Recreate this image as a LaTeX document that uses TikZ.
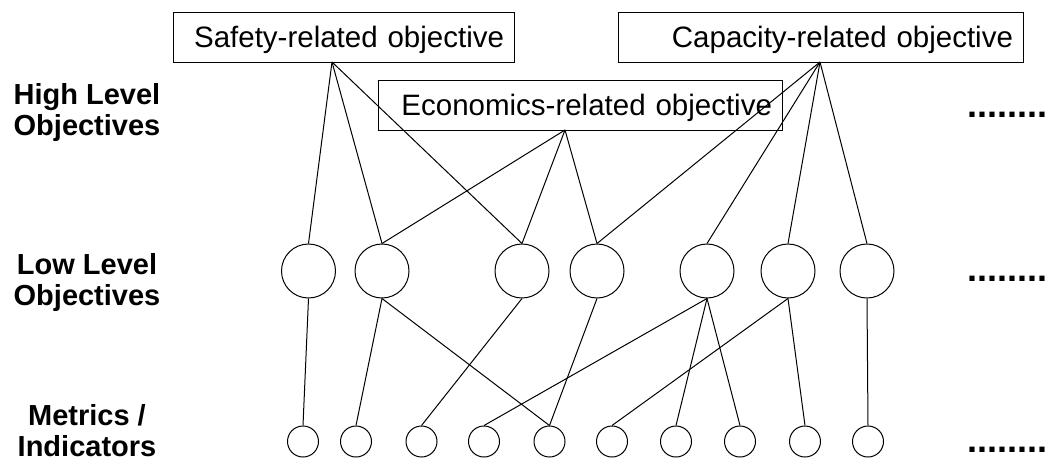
\documentclass[tikz,border=0pt]{standalone}
\usepackage{fontspec}
\setmainfont{Liberation Sans}
\begin{document}
\begin{tikzpicture}[x=1pt,y=-1pt,
  objbox/.style={draw, line width=1pt, minimum height=50pt, inner xsep=10pt, inner ysep=0pt,
    align=right, text height=20.8pt, text depth=0pt, font=\fontsize{29.5}{33}\selectfont},
  lowobj/.style={draw, line width=1pt, circle, minimum size=54pt, inner sep=0pt},
  metric/.style={draw, line width=1pt, circle, minimum size=31pt, inner sep=0pt},
  lvl/.style={align=center, inner sep=0pt, anchor=north, font=\bfseries\fontsize{29}{31.5}\selectfont},
  more/.style={inner sep=0pt, anchor=base west, font=\bfseries\fontsize{36}{36}\selectfont},
  link/.style={draw, line width=1pt}]
\useasboundingbox (0,0) rectangle (1050,464);

% high level objectives
\node[objbox, text width=321pt] (safety) at (343.5,37) {Safety-related objective};
\node[objbox, text width=384pt] (econ) at (580,105) {Economics-related objective};
\node[objbox, text width=385pt] (cap) at (820.5,37) {Capacity-related objective};
\coordinate (sp) at (332,62);
\coordinate (ep) at (565,130);
\coordinate (cp) at (820,62);

% low level objectives
\foreach \x [count=\i] in {308.5,382,522,597,707,788,867}
  \node[lowobj] (c\i) at (\x,271) {};

% metrics / indicators
\foreach \x [count=\i] in {303,356,421.5,484,549.5,612,676,740,805,868}
  \node[metric] (m\i) at (\x,441.5) {};

% row labels
\node[lvl] (hl) at (87,83) {High Level\\Objectives};
\node[lvl] (ll) at (87,253) {Low Level\\Objectives};
\node[lvl] (mi) at (87,404) {Metrics /\\Indicators};

% continuation dots
\node[more] (d1) at (967,117) {........};
\node[more] (d2) at (967,281) {........};
\node[more] (d3) at (967,452) {........};

% high -> low
\foreach \t in {1,2,3} \draw[link] (sp) -- (c\t.north);
\foreach \t in {2,3,4} \draw[link] (ep) -- (c\t.north);
\foreach \t in {4,5,6,7} \draw[link] (cp) -- (c\t.north);

% low -> metrics
\draw[link] (c1.south) -- (m1.north);
\draw[link] (c2.south) -- (m2.north);
\draw[link] (c2.south) -- (m5.north);
\draw[link] (c3.south) -- (m3.north);
\draw[link] (c4.south) -- (m5.north);
\draw[link] (c5.south) -- (m4.north);
\draw[link] (c5.south) -- (m7.north);
\draw[link] (c5.south) -- (m8.north);
\draw[link] (c6.south) -- (m6.north);
\draw[link] (c6.south) -- (m9.north);
\draw[link] (c7.south) -- (m10.north);
\end{tikzpicture}
\end{document}
